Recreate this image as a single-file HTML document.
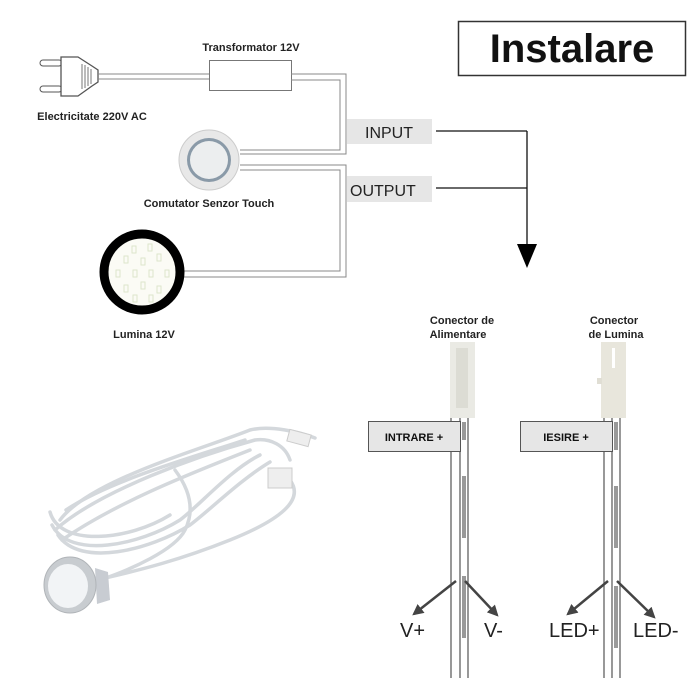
<!DOCTYPE html>
<html><head><meta charset="utf-8"><style>
html,body{margin:0;padding:0;background:#fff;width:700px;height:700px;overflow:hidden}
svg{display:block}
text{font-family:"Liberation Sans",sans-serif}
</style></head><body>
<svg width="700" height="700" viewBox="0 0 700 700" xmlns="http://www.w3.org/2000/svg">
<defs>
<marker id="ah" viewBox="0 0 10 10" refX="8" refY="5" markerWidth="4.5" markerHeight="4.5" orient="auto"><path d="M0,0 L10,5 L0,10 z" fill="#444"/></marker>
</defs>
<!-- Title -->
<rect x="458.5" y="21.5" width="227" height="54" fill="#fff" stroke="#333" stroke-width="1.5"/>
<text x="572" y="62" font-size="40" font-weight="bold" text-anchor="middle" fill="#111">Instalare</text>

<!-- Plug -->
<rect x="40" y="60" width="22" height="6" rx="3" fill="#fff" stroke="#555"/>
<rect x="40" y="86" width="22" height="6" rx="3" fill="#fff" stroke="#555"/>
<path d="M61,57 L78,57 L92,66 L98,70 L98,82 L92,86 L78,96 L61,96 Z" fill="#fff" stroke="#555" stroke-width="1.3"/>
<g stroke="#777" stroke-width="1"><line x1="82" y1="64" x2="82" y2="89"/><line x1="85" y1="65" x2="85" y2="88"/><line x1="88" y1="67" x2="88" y2="86"/><line x1="91" y1="69" x2="91" y2="84"/></g>
<line x1="98" y1="74" x2="210" y2="74" stroke="#888"/>
<line x1="98" y1="79" x2="210" y2="79" stroke="#888"/>
<text x="251" y="51" font-size="11" font-weight="bold" text-anchor="middle" fill="#222">Transformator 12V</text>
<rect x="209.5" y="60.5" width="82" height="30" fill="#fff" stroke="#777"/>
<text x="92" y="120" font-size="11" font-weight="bold" text-anchor="middle" fill="#222">Electricitate 220V AC</text>

<!-- wiring input -->
<path d="M291,74 H346 V154 H240" fill="none" stroke="#888"/>
<path d="M291,80 H340 V150 H240" fill="none" stroke="#888"/>
<!-- wiring output -->
<path d="M240,165 H346 V277 H184" fill="none" stroke="#888"/>
<path d="M240,170 H340 V271 H184" fill="none" stroke="#888"/>

<!-- touch switch -->
<circle cx="209" cy="160" r="30" fill="#e8e8e8" stroke="#ccc"/>
<circle cx="209" cy="160" r="22" fill="#8a9aa8"/>
<circle cx="209" cy="160" r="19" fill="#eceeef"/>
<text x="209" y="207" font-size="11" font-weight="bold" text-anchor="middle" fill="#222">Comutator Senzor Touch</text>

<!-- lamp -->
<circle cx="142" cy="272" r="38" fill="#fbfbf5" stroke="#000" stroke-width="9"/>
<g fill="none" stroke="#dde6cc" stroke-width="1">
<rect x="132" y="246" width="4" height="7"/><rect x="148" y="244" width="4" height="7"/><rect x="124" y="256" width="4" height="7"/><rect x="141" y="258" width="4" height="7"/><rect x="157" y="254" width="4" height="7"/><rect x="116" y="270" width="4" height="7"/><rect x="133" y="270" width="4" height="7"/><rect x="149" y="270" width="4" height="7"/><rect x="165" y="270" width="4" height="7"/><rect x="124" y="285" width="4" height="7"/><rect x="141" y="282" width="4" height="7"/><rect x="157" y="286" width="4" height="7"/><rect x="133" y="295" width="4" height="7"/><rect x="149" y="295" width="4" height="7"/>
</g>
<text x="144" y="338" font-size="11" font-weight="bold" text-anchor="middle" fill="#222">Lumina 12V</text>

<!-- INPUT / OUTPUT -->
<rect x="347" y="119" width="85" height="25" fill="#e6e6e6"/>
<text x="365" y="138" font-size="16" fill="#222">INPUT</text>
<rect x="347" y="176" width="85" height="26" fill="#e6e6e6"/>
<text x="350" y="196" font-size="16" fill="#222">OUTPUT</text>
<line x1="436" y1="131" x2="527" y2="131" stroke="#111" stroke-width="1.3"/>
<line x1="436" y1="188" x2="527" y2="188" stroke="#111" stroke-width="1.3"/>
<line x1="527" y1="131" x2="527" y2="248" stroke="#111" stroke-width="1.3"/>
<path d="M517,244 L537,244 L527,268 Z" fill="#000"/>

<!-- Left connector -->
<text x="462" y="324" font-size="11" font-weight="bold" text-anchor="middle" fill="#222">Conector de</text>
<text x="458" y="338" font-size="11" font-weight="bold" text-anchor="middle" fill="#222">Alimentare</text>
<rect x="450" y="342" width="25" height="76" fill="#eaeae4"/>
<rect x="456" y="348" width="12" height="60" fill="#dcdcd4"/>
<g stroke="#555" stroke-width="1.2"><line x1="451" y1="418" x2="451" y2="678"/><line x1="460" y1="418" x2="460" y2="678"/><line x1="468" y1="418" x2="468" y2="678"/></g>
<rect x="462" y="422" width="4" height="18" fill="#999"/>
<rect x="462" y="476" width="4" height="62" fill="#999"/>
<rect x="462" y="576" width="4" height="62" fill="#999"/>
<rect x="368.5" y="421.5" width="92" height="30" fill="#e6e6e6" stroke="#555"/>
<text x="414" y="441" font-size="11" font-weight="bold" text-anchor="middle" fill="#111">INTRARE +</text>

<!-- Right connector -->
<text x="614" y="324" font-size="11" font-weight="bold" text-anchor="middle" fill="#222">Conector</text>
<text x="616" y="338" font-size="11" font-weight="bold" text-anchor="middle" fill="#222">de Lumina</text>
<rect x="601" y="342" width="25" height="76" fill="#e8e6dc"/>
<rect x="597" y="378" width="5" height="6" fill="#e0ded4"/>
<rect x="612" y="348" width="3" height="20" fill="#fff"/>
<g stroke="#555" stroke-width="1.2"><line x1="604" y1="418" x2="604" y2="678"/><line x1="612" y1="418" x2="612" y2="678"/><line x1="620" y1="418" x2="620" y2="678"/></g>
<rect x="614" y="422" width="4" height="28" fill="#999"/>
<rect x="614" y="486" width="4" height="62" fill="#999"/>
<rect x="614" y="586" width="4" height="62" fill="#999"/>
<rect x="520.5" y="421.5" width="92" height="30" fill="#e6e6e6" stroke="#555"/>
<text x="566" y="441" font-size="11" font-weight="bold" text-anchor="middle" fill="#111">IESIRE +</text>

<!-- small arrows -->
<g stroke="#444" stroke-width="2.5" marker-end="url(#ah)">
<line x1="456" y1="581" x2="414" y2="614"/>
<line x1="465" y1="581" x2="497" y2="615"/>
<line x1="608" y1="581" x2="568" y2="614"/>
<line x1="617" y1="581" x2="654" y2="617"/>
</g>
<g font-size="20" fill="#222">
<text x="400" y="637">V+</text><text x="484" y="637">V-</text>
<text x="549" y="637">LED+</text><text x="633" y="637">LED-</text>
</g>

<!-- product photo approximation -->
<g fill="none" stroke="#d4d8dc" stroke-width="3.5" stroke-linecap="round">
<path d="M60,520 C90,480 200,450 250,430 C270,425 300,432 315,438"/>
<path d="M55,530 C100,490 200,455 255,440 C270,438 285,445 290,460"/>
<path d="M62,540 C120,500 200,470 250,450"/>
<path d="M66,510 C110,480 200,455 245,440"/>
<path d="M52,525 C70,560 140,545 180,520 C200,505 230,470 260,455"/>
<path d="M58,535 C80,568 150,550 190,525 C210,510 240,480 270,462"/>
<path d="M50,512 C60,548 130,540 170,515"/>
<path d="M175,470 C190,490 195,510 185,530 C175,550 130,570 100,580"/>
<path d="M290,480 C305,500 280,520 230,540 C180,560 140,570 105,578"/>
</g>
<rect x="288" y="432" width="22" height="12" fill="#eee" stroke="#ccc" transform="rotate(15 299 438)"/>
<rect x="268" y="468" width="24" height="20" fill="#eee" stroke="#ccc"/>
<path d="M95,568 L108,572 L110,600 L97,604 Z" fill="#c8ccd2"/>
<ellipse cx="70" cy="585" rx="26" ry="28" fill="#c8ccd0" stroke="#b0b4b8"/>
<ellipse cx="68" cy="586" rx="20" ry="22" fill="#f2f4f6"/>
</svg>
</body></html>
